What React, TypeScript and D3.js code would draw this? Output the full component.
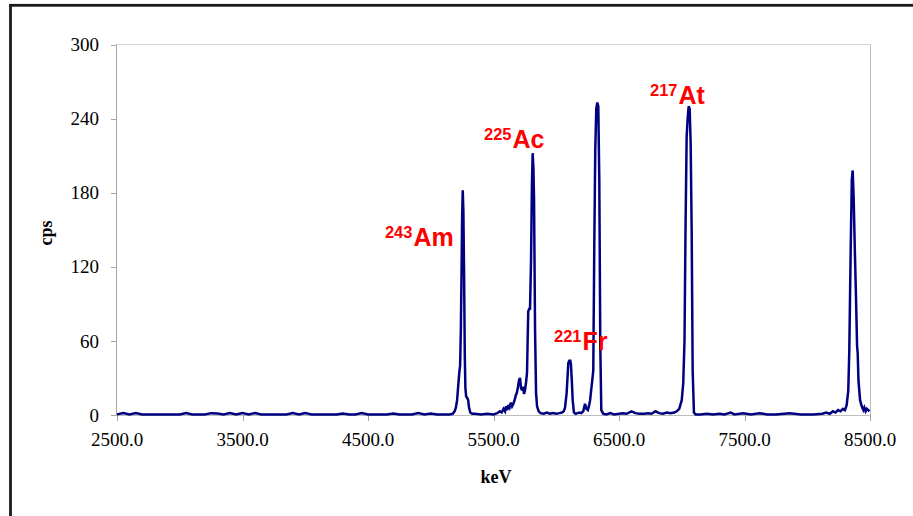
import React from "react";
import * as d3 from "d3";

const energy: number[] = [
  2500, 2550, 2600, 2650, 2700, 2750, 2800, 2850, 2900, 2950, 3000, 3050, 3100, 3150, 3200, 3250, 3300, 3350, 3400, 3450,
  3500, 3550, 3600, 3650, 3700, 3750, 3800, 3850, 3900, 3950, 4000, 4050, 4100, 4150, 4200, 4250, 4300, 4350, 4400, 4450,
  4500, 4550, 4600, 4650, 4700, 4750, 4800, 4850, 4900, 4950, 5000, 5050, 5100,
  5150, 5175, 5190, 5200, 5210, 5220, 5228, 5234, 5240, 5246, 5250, 5255, 5260, 5266, 5271, 5276, 5282, 5290, 5298, 5305, 5315, 5330,
  5350, 5400, 5450, 5500, 5530, 5550, 5565, 5580, 5592, 5600, 5610, 5618, 5628, 5638, 5648, 5658, 5668, 5678, 5686, 5694, 5703, 5711,
  5719, 5727, 5735, 5743, 5751, 5759, 5767, 5772, 5777, 5785, 5791, 5799, 5806, 5812, 5818, 5823, 5831, 5839, 5847, 5860, 5875,
  5900, 5925, 5950, 5975, 6000, 6025, 6045, 6060,
  6070, 6083, 6096, 6104, 6112, 6117, 6123, 6131, 6141, 6155,
  6170, 6185, 6200, 6215, 6229, 6240, 6252, 6262, 6270, 6278, 6287, 6295, 6303, 6311, 6319, 6327, 6335, 6343, 6351, 6359, 6375,
  6400, 6430, 6460, 6500, 6530, 6560, 6600, 6630, 6660, 6700, 6730, 6760, 6790, 6820, 6850, 6880, 6910, 6940, 6960, 6980,
  7000, 7012, 7022, 7030, 7039, 7047, 7055, 7063, 7071, 7079, 7087, 7097, 7110,
  7150, 7200, 7250, 7300, 7340, 7390, 7420, 7490, 7550, 7620, 7680, 7750, 7860, 7950, 8050, 8120, 8150, 8180, 8205, 8225, 8245,
  8265, 8284, 8300, 8314, 8327, 8335, 8346, 8355, 8362, 8370, 8380, 8389, 8397, 8402, 8408, 8421, 8434, 8447, 8455, 8465, 8475,
  8486, 8495,
];

const cps: number[] = [
  0.5, 1.5, 0.5, 1.5, 0.5, 0.5, 0.5, 0.5, 0.5, 0.5, 0.5, 1.5, 0.5, 0.5, 0.5, 1.5, 1.2, 0.5, 1.5, 0.5,
  1.5, 0.5, 1.5, 0.5, 0.5, 0.5, 0.5, 0.5, 1.5, 0.5, 1.5, 0.5, 0.5, 0.5, 0.5, 0.5, 1.2, 0.5, 0.5, 1.5,
  0.5, 0.5, 0.5, 0.5, 1.2, 0.5, 0.5, 0.5, 1.5, 0.5, 1.2, 0.5, 0.5,
  0.5, 1, 3, 6, 12, 25, 35, 40, 70, 120, 160, 182, 165, 110, 50, 22, 15, 14, 12, 6, 2, 1,
  1, 0.5, 1, 0.5, 1.5, 3, 2, 5, 3, 7, 4, 8, 6, 10, 7, 9, 12, 16, 18, 22, 28, 30,
  22, 20, 23, 17, 20, 26, 34, 60, 84, 86, 86, 125, 185, 212, 200, 175, 70, 18, 7, 3, 1.5,
  1, 2, 1, 1.5, 1, 1.5, 2, 3,
  6, 18, 42, 44, 44, 41, 30, 12, 2, 1,
  1.5, 2, 1.5, 3, 9, 5, 4, 8, 12, 20, 28, 36, 136, 215, 248, 253, 250, 190, 55, 4, 1,
  0.5, 1.5, 0.5, 1, 1.5, 1, 3, 1.5, 1, 1, 1.5, 1, 3, 1.5, 1, 2, 1.5, 2, 3, 5,
  12, 26, 60, 150, 225, 240, 250, 248, 220, 150, 36, 2, 0.5,
  0.5, 1, 0.5, 1, 0.5, 2, 0.5, 1.5, 0.5, 1.5, 0.5, 0.5, 1.5, 0.5, 0.5, 1, 2, 1, 3, 2, 4,
  3, 5, 4, 8, 20, 52, 133, 190, 198, 175, 130, 93, 56, 50, 28, 12, 7, 4, 6, 3, 5,
  4, 3,
];

const xTicks: number[] = [2500, 3500, 4500, 5500, 6500, 7500, 8500];
const yTicks: number[] = [0, 60, 120, 180, 240, 300];

const labelMass: string[] = ["243", "225", "221", "217"];
const labelSymbol: string[] = ["Am", "Ac", "Fr", "At"];
const labelEnergy: number[] = [4635, 5424, 5982, 6747];
const labelCps: number[] = [136.7, 216, 52.6, 252];

export default function App() {
  const W = 913;
  const H = 516;
  const x = d3.scaleLinear().domain([2500, 8500]).range([117, 870]);
  const y = d3.scaleLinear().domain([0, 300]).range([415, 44.5]);
  const pts: [number, number][] = energy.map((e, i) => [e, cps[i]]);
  const line = d3
    .line<[number, number]>()
    .x((d) => x(d[0]))
    .y((d) => y(d[1]));

  const serif = "'Liberation Serif', 'Times New Roman', serif";
  const sans = "'Liberation Sans', Arial, sans-serif";

  return (
    <svg
      width={W}
      height={H}
      style={{ position: "absolute", left: 0, top: 0, display: "block", background: "#fff" }}
    >
      <rect x={0} y={0} width={W} height={H} fill="#fff" />
      <rect x={10.5} y={5.3} width={1000} height={700} fill="none" stroke="#1a1a1a" strokeWidth={2.8} />

      {/* plot area border */}
      <line x1={117} x2={870.5} y1={44.5} y2={44.5} stroke="#d4d4d4" strokeWidth={1} />
      <line x1={870.5} x2={870.5} y1={44.5} y2={421} stroke="#bdbdbd" strokeWidth={1} />

      {/* y axis */}
      <line x1={116.5} x2={116.5} y1={44.5} y2={415} stroke="#a6a6a6" strokeWidth={1} />
      {yTicks.map((t) => (
        <g key={"y" + t}>
          <line x1={111} x2={117} y1={Math.round(y(t)) + 0.5} y2={Math.round(y(t)) + 0.5} stroke="#a6a6a6" />
          <text
            x={99}
            y={y(t)}
            dy="0.35em"
            textAnchor="end"
            fontFamily={serif}
            fontSize={19}
            fill="#000"
          >
            {t}
          </text>
        </g>
      ))}

      {/* x axis */}
      <line x1={116.5} x2={870.5} y1={415.5} y2={415.5} stroke="#bdbdbd" strokeWidth={1} />
      {xTicks.map((t) => (
        <g key={"x" + t}>
          <line x1={Math.round(x(t)) + 0.5} x2={Math.round(x(t)) + 0.5} y1={415} y2={421} stroke="#a6a6a6" />
          <text x={x(t)} y={446} textAnchor="middle" fontFamily={serif} fontSize={19} fill="#000">
            {t.toFixed(1)}
          </text>
        </g>
      ))}

      {/* axis titles */}
      <text
        transform={`translate(52,233) rotate(-90)`}
        textAnchor="middle"
        fontFamily={serif}
        fontWeight="bold"
        fontSize={18}
        fill="#000"
      >
        cps
      </text>
      <text x={496} y={483} textAnchor="middle" fontFamily={serif} fontWeight="bold" fontSize={18} fill="#000">
        keV
      </text>

      {/* spectrum */}
      <path d={line(pts) ?? ""} fill="none" stroke="#000080" strokeWidth={2.5} strokeLinejoin="miter" strokeMiterlimit={3} />

      {/* annotations */}
      {labelMass.map((m, i) => (
        <text
          key={"l" + i}
          x={x(labelEnergy[i])}
          y={y(labelCps[i])}
          fontFamily={sans}
          fontWeight="bold"
          fill="#ff0000"
        >
          <tspan fontSize={16.5} dy={-8}>
            {m}
          </tspan>
          <tspan fontSize={25} dy={8} dx={1}>
            {labelSymbol[i]}
          </tspan>
        </text>
      ))}
    </svg>
  );
}
